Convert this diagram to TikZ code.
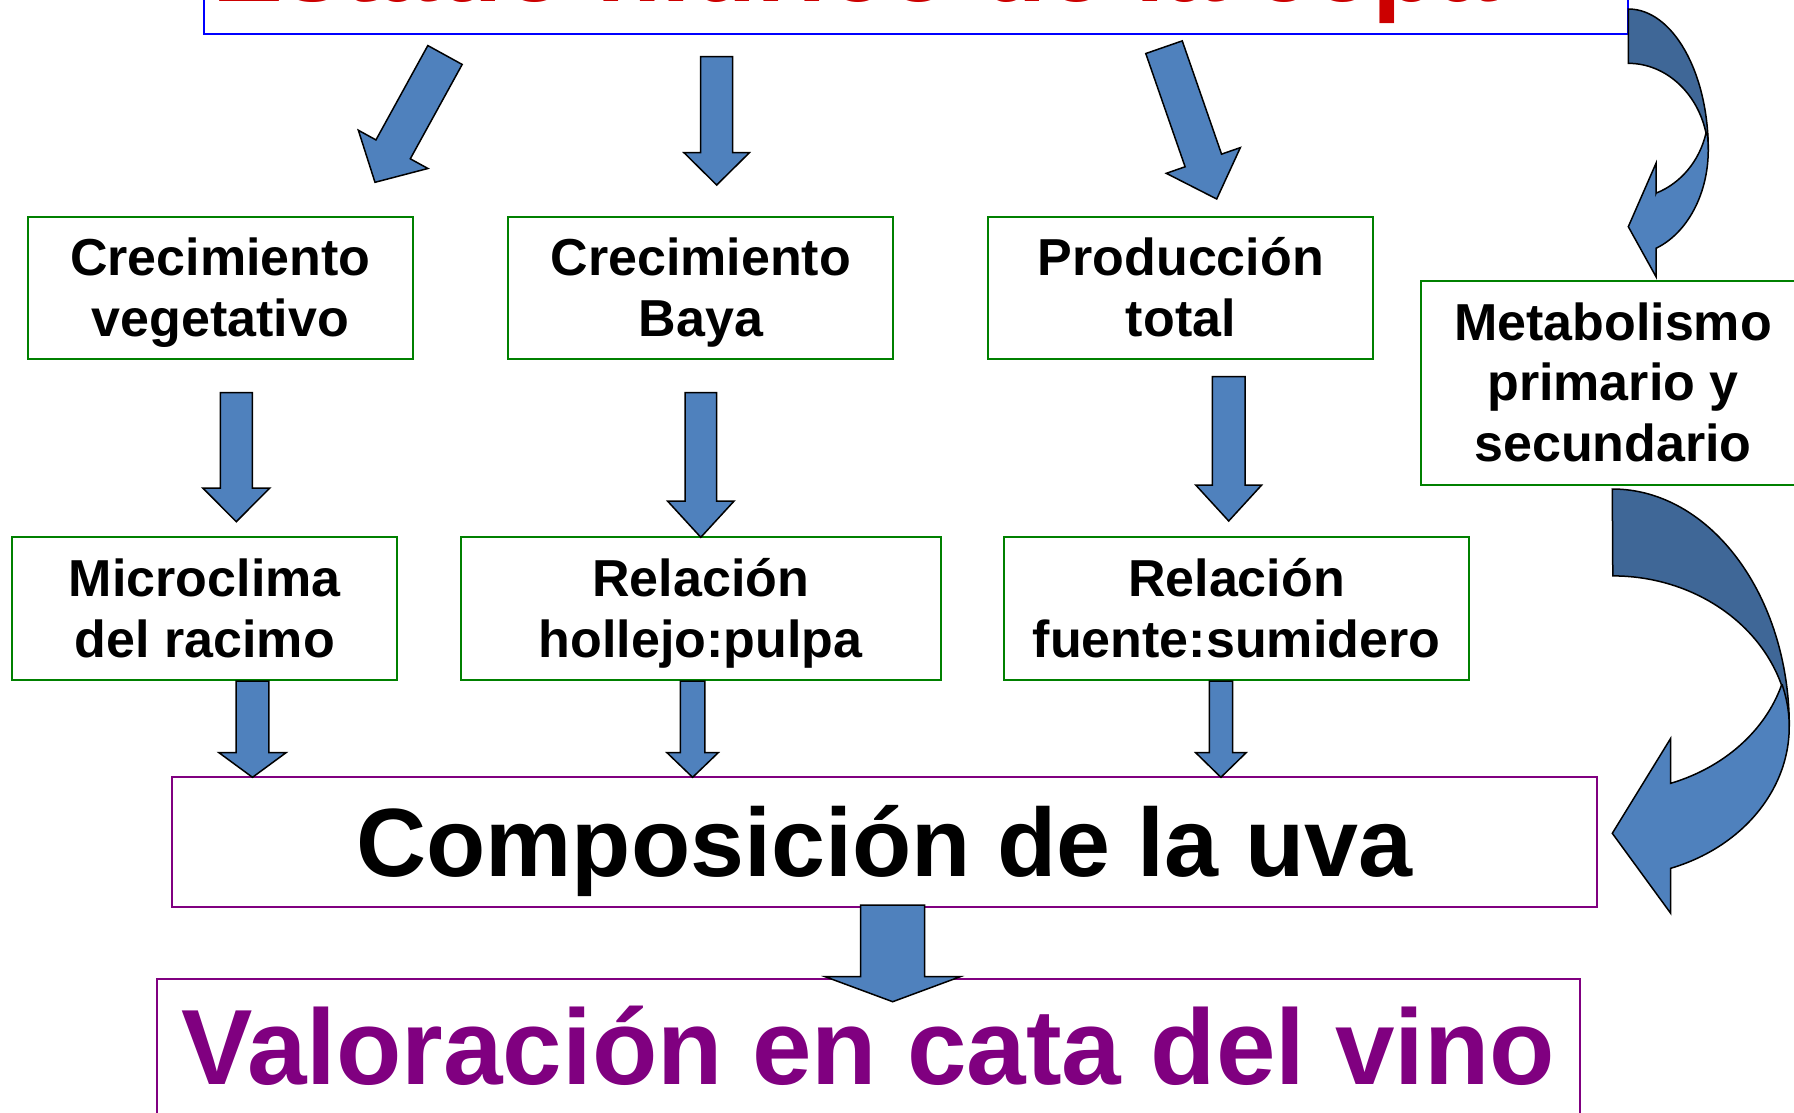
\documentclass[tikz,border=0pt]{standalone}
\usepackage{fontspec}
\setmainfont{Liberation Sans}
\usetikzlibrary{calc}
\definecolor{gboxc}{HTML}{008000}
\definecolor{pboxc}{HTML}{800080}
\definecolor{tboxc}{HTML}{0000FF}
\definecolor{titlec}{HTML}{CC0000}
\definecolor{arrowblue}{HTML}{4F81BD}
\definecolor{arrowdark}{HTML}{3F6797}
\newcommand{\ls}{\rule[-0.25em]{0pt}{1.2em}}
\newcommand{\fmid}{\bfseries\fontsize{52}{60.7}\selectfont\lineskiplimit=-\maxdimen}
\newcommand{\fcomp}{\bfseries\fontsize{97}{113}\selectfont}
\newcommand{\fval}{\bfseries\fontsize{107}{125}\selectfont}
\newcommand{\ftitle}{\bfseries\fontsize{106.5}{125}\selectfont}
\newcommand{\blockarrow}[5]{%
  \coordinate (hb) at ($#2!#5!#1$);
  \draw[barrow] ($#1!#3!90:#2$) -- ($(hb)!#3!90:#2$) -- ($(hb)!#4!90:#2$) -- #2
    -- ($(hb)!#4!-90:#2$) -- ($(hb)!#3!-90:#2$) -- ($#1!#3!-90:#2$) -- cycle;}
\tikzset{
  gbox/.style={draw=gboxc, line width=2pt, inner sep=0pt, minimum width=385pt,
    minimum height=142.6pt, align=center, font=\fmid},
  pbox/.style={draw=pboxc, line width=2pt, inner sep=0pt, align=center},
  tbox/.style={draw=tboxc, line width=2pt, inner sep=0pt},
  barrow/.style={fill=arrowblue, draw=black, line width=1.5pt, line join=miter},
  cdark/.style={fill=arrowdark, draw=black, line width=1.5pt, line join=miter},
  clight/.style={fill=arrowblue, draw=black, line width=1.5pt, line join=miter},
}
\begin{document}
\begin{tikzpicture}[x=1pt,y=1pt]
\useasboundingbox (0,0) rectangle (1794,-1112);
\clip (0,0) rectangle (1794,-1112);
\fill[white] (0,0) rectangle (1794,-1112);

% top box and title
\node[tbox, minimum width=1424pt, minimum height=136pt] (topbox) at (916,34) {};
\node[anchor=base west, inner sep=0pt, font=\ftitle, text=titlec] (title) at (212,-1.5) {Estado hídrico de la cepa};

% green boxes
\node[gbox] (b1) at (220.3,-288) {\ls Crecimiento\\\ls vegetativo};
\node[gbox] (b2) at (700.8,-288) {\ls Crecimiento\\\ls Baya};
\node[gbox] (b3) at (1180.8,-288) {\ls Producción\\\ls total};
\node[gbox, minimum height=203.5pt] (b4) at (1613,-382.75) {\ls Metabolismo\\\ls primario y\\\ls secundario};
\node[gbox, minimum height=142.7pt] (b5) at (204.8,-608.7) {\ls Microclima\\\ls del racimo};
\node[gbox, minimum height=142.7pt, minimum width=480pt] (b6) at (700.7,-608.7) {\ls Relación\\\ls hollejo:pulpa};
\node[gbox, minimum height=142.7pt, minimum width=465pt] (b7) at (1236.5,-608.7) {\ls Relación\\\ls fuente:sumidero};

% purple boxes
\node[pbox, minimum width=1424.4pt, minimum height=130pt, font=\fcomp] (comp) at (884.5,-842.3) {\ls Composición de la uva};
\node[pbox, minimum width=1423.2pt, minimum height=136.4pt, font=\fval, text=pboxc] (val) at (868.4,-1047.5) {\ls Valoración en cata del vino};

% small curved arrow (top box -> metabolismo)
\filldraw[cdark] (1628.3,-9) arc[start angle=90, end angle=0, x radius=80, y radius=141]
  -- (1706,-133) arc[start angle=13.8, end angle=90, x radius=80, y radius=91.5] -- cycle;
\filldraw[clight] (1656,-193.3) -- (1656,-163.3) -- (1628.3,-226.7) -- (1656,-276.7) -- (1656,-248.3)
  arc[start angle=-69.7, end angle=9.3, x radius=80, y radius=104.8]
  -- (1706,-133) arc[start angle=-13.8, end angle=-69.7, x radius=80, y radius=86] -- cycle;

% big curved arrow (metabolismo -> composicion)
\filldraw[cdark] (1612.3,-489) arc[start angle=90, end angle=0, x radius=177, y radius=237.7]
  -- (1781.5,-685) arc[start angle=17.6, end angle=90, x radius=177, y radius=156.4] -- cycle;
\filldraw[clight] (1670.7,-783.3) -- (1670.7,-738.3) -- (1612.3,-833.3) -- (1670.7,-913.3) -- (1670.7,-868.3)
  arc[start angle=-70.7, end angle=16.2, x radius=177, y radius=150]
  -- (1781.6,-684.9) arc[start angle=-17, end angle=-70.7, x radius=177, y radius=151] -- cycle;

% block arrow end points
\coordinate (a1t) at (445,-55);      \coordinate (a1h) at (375,-182.3);
\coordinate (a2t) at (716.7,-56.7);  \coordinate (a2h) at (716.7,-185);
\coordinate (a3t) at (1164,-47.2);   \coordinate (a3h) at (1216.7,-199);
\coordinate (a4t) at (236.3,-392.7); \coordinate (a4h) at (236.3,-521.7);
\coordinate (a5t) at (700.8,-392.7); \coordinate (a5h) at (700.8,-537.3);
\coordinate (a6t) at (1228.7,-376.7);\coordinate (a6h) at (1228.7,-521);
\coordinate (a7t) at (252.5,-681);   \coordinate (a7h) at (252.5,-777.3);
\coordinate (a8t) at (692.6,-681);   \coordinate (a8h) at (692.6,-777.3);
\coordinate (a9t) at (1220.9,-681);  \coordinate (a9h) at (1220.9,-777.3);
\coordinate (a10t) at (892.7,-905);  \coordinate (a10h) at (892.7,-1001.7);

\blockarrow{(a1t)}{(a1h)}{19.6pt}{39.7pt}{37.6pt}
\blockarrow{(a2t)}{(a2h)}{16pt}{32.7pt}{32.3pt}
\blockarrow{(a3t)}{(a3h)}{19.3pt}{39.2pt}{40.8pt}
\blockarrow{(a4t)}{(a4h)}{16pt}{33.5pt}{33.7pt}
\blockarrow{(a5t)}{(a5h)}{15.8pt}{33.3pt}{36.3pt}
\blockarrow{(a6t)}{(a6h)}{16.3pt}{33pt}{36pt}
\blockarrow{(a7t)}{(a7h)}{16.3pt}{33.5pt}{24.6pt}
\blockarrow{(a8t)}{(a8h)}{12.2pt}{25.6pt}{24.6pt}
\blockarrow{(a9t)}{(a9h)}{11.6pt}{25.2pt}{24.6pt}
\blockarrow{(a10t)}{(a10h)}{32pt}{67.5pt}{25pt}
\end{tikzpicture}
\end{document}
